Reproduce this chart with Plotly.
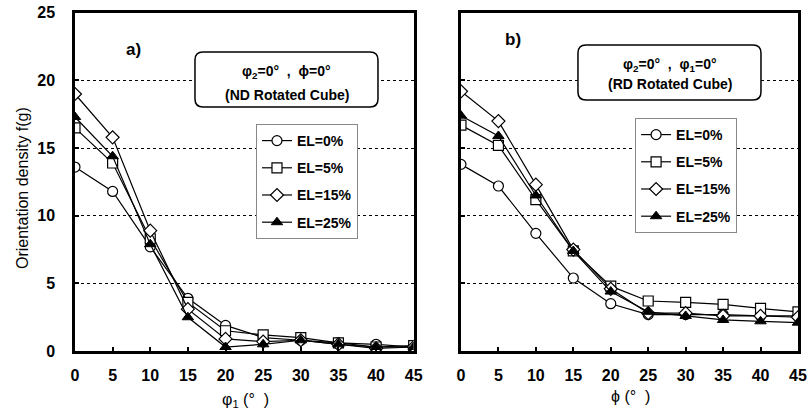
import plotly.graph_objects as go

# Euler angle steps (degrees)
angles = [0, 5, 10, 15, 20, 25, 30, 35, 40, 45]
tick_vals_x = [0, 5, 10, 15, 20, 25, 30, 35, 40, 45]
tick_vals_y = [0, 5, 10, 15, 20, 25]

series_names = ["EL=0%", "EL=5%", "EL=15%", "EL=25%"]

# a) ND rotated cube, f(g) vs phi1
nd_el0 = [13.6, 11.8, 7.7, 3.9, 1.9, 1.0, 0.8, 0.6, 0.5, 0.3]
nd_el5 = [16.5, 13.9, 8.3, 3.6, 1.5, 1.2, 1.0, 0.6, 0.3, 0.4]
nd_el15 = [19.0, 15.8, 8.9, 3.1, 0.9, 0.7, 0.8, 0.5, 0.2, 0.3]
nd_el25 = [17.3, 14.4, 7.9, 2.5, 0.3, 0.5, 0.8, 0.5, 0.3, 0.3]

# b) RD rotated cube, f(g) vs Phi
rd_el0 = [13.8, 12.2, 8.7, 5.4, 3.5, 2.7, 2.7, 2.7, 2.6, 2.6]
rd_el5 = [16.7, 15.2, 11.2, 7.4, 4.8, 3.7, 3.6, 3.45, 3.15, 2.9]
rd_el15 = [19.2, 17.0, 12.3, 7.5, 4.6, 2.8, 2.8, 2.6, 2.6, 2.5]
rd_el25 = [17.4, 15.9, 11.5, 7.4, 4.4, 2.9, 2.6, 2.3, 2.2, 2.1]

FONT = "Liberation Sans, Arial, sans-serif"

markers = [
    dict(symbol="circle", size=10, color="white", line=dict(color="black", width=1.2)),
    dict(symbol="square", size=10, color="white", line=dict(color="black", width=1.2)),
    dict(symbol="diamond", size=10, color="white", line=dict(color="black", width=1.2)),
    dict(symbol="triangle-up", size=10, color="black", line=dict(color="black", width=1)),
]

fig = go.Figure()

for i, (name, ys) in enumerate(zip(series_names, [nd_el0, nd_el5, nd_el15, nd_el25])):
    fig.add_trace(go.Scatter(
        x=angles, y=ys, name=name, mode="lines+markers",
        line=dict(color="black", width=1.2), marker=markers[i],
        xaxis="x", yaxis="y", legend="legend", legendgroup=f"a{i}",
    ))

for i, (name, ys) in enumerate(zip(series_names, [rd_el0, rd_el5, rd_el15, rd_el25])):
    fig.add_trace(go.Scatter(
        x=angles, y=ys, name=name, mode="lines+markers",
        line=dict(color="black", width=1.2), marker=markers[i],
        xaxis="x2", yaxis="y2", legend="legend2", legendgroup=f"b{i}",
    ))

axis_common = dict(
    showline=True, linecolor="black", linewidth=2.5, mirror=True,
    ticks="inside", ticklen=4, tickcolor="black", tickwidth=1.5,
    zeroline=False, automargin=False,
    tickfont=dict(family=FONT, size=16, color="black", weight="bold"),
)

x_common = dict(axis_common, range=[0, 45], tickvals=tick_vals_x, showgrid=False,
                ticklabelstandoff=8)
y_common = dict(axis_common, range=[0, 25], tickvals=tick_vals_y,
                showgrid=True, gridcolor="black", gridwidth=1.3, griddash="dot")

legend_common = dict(
    bgcolor="white", bordercolor="#888888", borderwidth=1,
    font=dict(family=FONT, size=14, color="black", weight="bold"),
    tracegroupgap=6, itemwidth=30, traceorder="grouped",
    xanchor="left", yanchor="top",
)

fig.update_layout(
    width=808, height=414,
    margin=dict(l=0, r=0, t=0, b=0),
    paper_bgcolor="white", plot_bgcolor="white",
    showlegend=True,
    xaxis=dict(x_common, domain=[0.0928, 0.512], anchor="y"),
    yaxis=dict(y_common, domain=[0.152, 0.969], anchor="x", ticklabelstandoff=14),
    xaxis2=dict(x_common, domain=[0.5705, 0.9876], anchor="y2"),
    yaxis2=dict(y_common, domain=[0.152, 0.969], anchor="x2", showticklabels=False),
    legend=dict(legend_common, x=0.3168, y=0.7005),
    legend2=dict(legend_common, x=0.786, y=0.715),
)


def rounded_box(x0, y0, x1, y1, rx=0.0099, ry=0.0193):
    return (
        f"M {x0 + rx},{y0} L {x1 - rx},{y0} Q {x1},{y0} {x1},{y0 + ry} "
        f"L {x1},{y1 - ry} Q {x1},{y1} {x1 - rx},{y1} "
        f"L {x0 + rx},{y1} Q {x0},{y1} {x0},{y1 - ry} "
        f"L {x0},{y0 + ry} Q {x0},{y0} {x0 + rx},{y0} Z"
    )


for box in [(0.2413, 0.7415, 0.4678, 0.8744), (0.7153, 0.7585, 0.9418, 0.8913)]:
    fig.add_shape(type="path", path=rounded_box(*box), xref="paper", yref="paper",
                  fillcolor="white", line=dict(color="black", width=1.5), layer="above")


def note(px, py, text, font, angle=0):
    fig.add_annotation(x=px / 808, y=1 - py / 414, xref="paper", yref="paper",
                       text=text, showarrow=False, font=font, textangle=angle,
                       xanchor="center", yanchor="middle")


text_font = dict(family=FONT, size=14, color="black", weight="bold")
note(286.5, 72, "φ<sub>2</sub>=0°  ,  ϕ=0°", text_font)
note(286.5, 95, "(ND Rotated Cube)", text_font)
note(669.5, 65, "φ<sub>2</sub>=0°  ,  φ<sub>1</sub>=0°", text_font)
note(669.5, 84, "(RD Rotated Cube)", text_font)

label_font = dict(family=FONT, size=17, color="black", weight="bold")
note(133, 50, "a)", label_font)
note(513, 40, "b)", label_font)

title_font = dict(family=FONT, size=16, color="black")
note(245, 400, "φ<sub>1</sub> (°  )", title_font)
note(630, 396, "ϕ (°  )", title_font)
note(22, 188, "Orientation density f(g)", title_font, angle=-90)

fig.write_html("out.html")
